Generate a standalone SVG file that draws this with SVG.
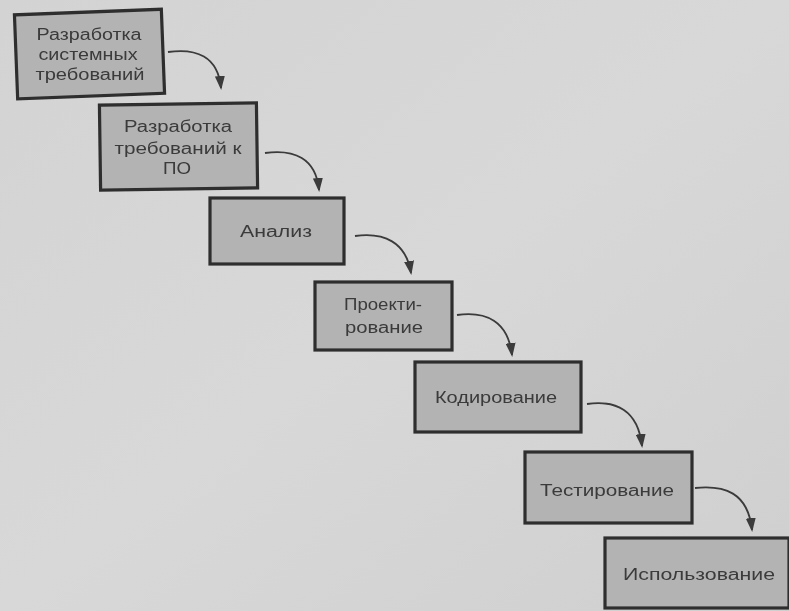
<svg xmlns="http://www.w3.org/2000/svg" width="789" height="611" viewBox="0 0 789 611">
  <defs>
    <linearGradient id="page" x1="0" y1="0" x2="1" y2="1">
      <stop offset="0" stop-color="#d3d3d3"/>
      <stop offset="0.5" stop-color="#d8d8d8"/>
      <stop offset="1" stop-color="#cfcfcf"/>
    </linearGradient>
    <marker id="head" viewBox="0 0 14 10" refX="12" refY="5" markerWidth="14" markerHeight="10" markerUnits="userSpaceOnUse" orient="auto">
      <path d="M0,0 L14,5 L0,10 Z" fill="#3a3a3a"/>
    </marker>
    <filter id="soft" x="-5%" y="-5%" width="110%" height="110%">
      <feGaussianBlur stdDeviation="0.6"/>
    </filter>
  </defs>
  <style>
    .box { fill: #b3b3b3; stroke: #2e2e2e; stroke-width: 3.2; }
    .lbl { font-family: "Liberation Sans", Arial, sans-serif; font-size: 16px; fill: #3a3a3a; text-anchor: middle; }
    .arrow { fill: none; stroke: #3a3a3a; stroke-width: 1.8; }
  </style>

  <rect width="789" height="611" fill="url(#page)"/>

  <g filter="url(#soft)">
    <g id="node-system-req">
      <rect class="box" x="16" y="12" width="147" height="84" transform="rotate(-2.2 90 54)"/>
      <text class="lbl" x="89" y="40" textLength="105" lengthAdjust="spacingAndGlyphs">Разработка</text>
      <text class="lbl" x="88" y="60" textLength="99" lengthAdjust="spacingAndGlyphs">системных</text>
      <text class="lbl" x="90" y="80" textLength="109" lengthAdjust="spacingAndGlyphs">требований</text>
    </g>
    <g id="node-software-req">
      <rect class="box" x="100" y="104" width="157" height="85" transform="rotate(-0.8 178 146)"/>
      <text class="lbl" x="178" y="132" textLength="108" lengthAdjust="spacingAndGlyphs">Разработка</text>
      <text class="lbl" x="178" y="154" textLength="127" lengthAdjust="spacingAndGlyphs">требований к</text>
      <text class="lbl" x="177" y="174" textLength="28" lengthAdjust="spacingAndGlyphs">ПО</text>
    </g>
    <g id="node-analysis">
      <rect class="box" x="210" y="198" width="134" height="66"/>
      <text class="lbl" x="276" y="237" textLength="72" lengthAdjust="spacingAndGlyphs">Анализ</text>
    </g>
    <g id="node-design">
      <rect class="box" x="315" y="282" width="137" height="68"/>
      <text class="lbl" x="383" y="310" textLength="78" lengthAdjust="spacingAndGlyphs">Проекти-</text>
      <text class="lbl" x="384" y="333" textLength="78" lengthAdjust="spacingAndGlyphs">рование</text>
    </g>
    <g id="node-coding">
      <rect class="box" x="415" y="362" width="166" height="70"/>
      <text class="lbl" x="496" y="403" textLength="122" lengthAdjust="spacingAndGlyphs">Кодирование</text>
    </g>
    <g id="node-testing">
      <rect class="box" x="525" y="452" width="167" height="71"/>
      <text class="lbl" x="607" y="496" textLength="134" lengthAdjust="spacingAndGlyphs">Тестирование</text>
    </g>
    <g id="node-usage">
      <rect class="box" x="605" y="538" width="184" height="70"/>
      <text class="lbl" x="699" y="580" textLength="152" lengthAdjust="spacingAndGlyphs">Использование</text>
    </g>

    <g id="connectors">
      <path class="arrow" marker-end="url(#head)" d="M168,52 C196,48 218,56 221,88"/>
      <path class="arrow" marker-end="url(#head)" d="M265,153 C294,149 316,158 319,190"/>
      <path class="arrow" marker-end="url(#head)" d="M355,236 C384,232 406,242 411,273"/>
      <path class="arrow" marker-end="url(#head)" d="M457,315 C486,311 508,321 512,355"/>
      <path class="arrow" marker-end="url(#head)" d="M587,404 C616,400 638,410 642,446"/>
      <path class="arrow" marker-end="url(#head)" d="M695,488 C724,485 748,492 752,530"/>
    </g>
  </g>
</svg>
